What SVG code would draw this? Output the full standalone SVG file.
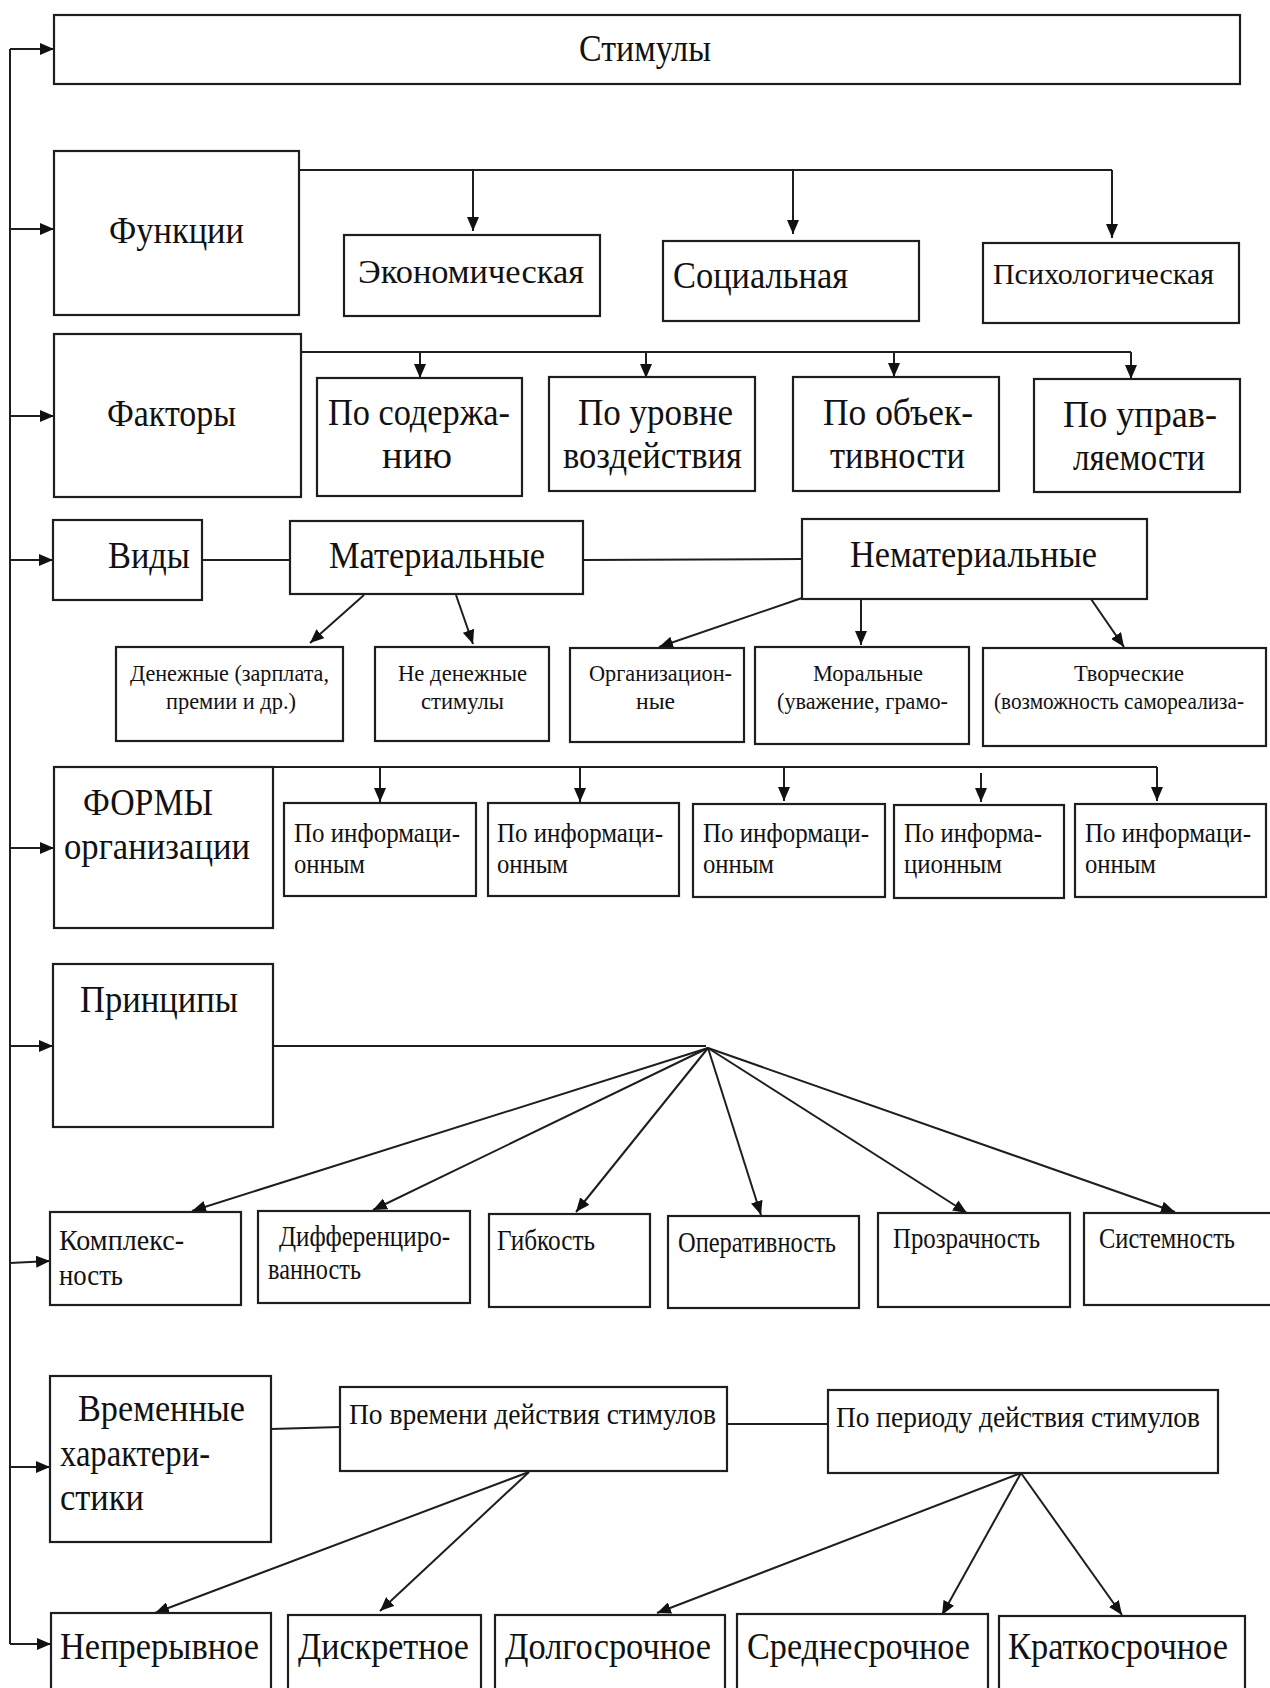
<svg xmlns="http://www.w3.org/2000/svg" width="1270" height="1688" viewBox="0 0 1270 1688">
<style>
rect{fill:#fff;stroke:#1e1e1e;stroke-width:2.2}
.c line,.c path{stroke:#1e1e1e;stroke-width:2;fill:none}
.a{marker-end:url(#ah)}
text{font-family:"Liberation Serif","Times New Roman",serif;fill:#111}
.xl{font-size:37px}
.l{font-size:33px}
.m{font-size:29px}
.s{font-size:24px}
.t{font-size:27px}
</style>
<defs>
<marker id="ah" markerUnits="userSpaceOnUse" markerWidth="14" markerHeight="12" refX="14" refY="6" orient="auto">
<path d="M0,0 L14,6 L0,12 z" fill="#111"/>
</marker>
</defs>
<rect x="0" y="0" width="1270" height="1688" style="fill:#fff;stroke:none"/>

<g id="connectors" class="c">
<path d="M10,49 V1644"/>
<line class="a" x1="10" y1="49" x2="54" y2="49"/>
<line class="a" x1="10" y1="229" x2="54" y2="229"/>
<line class="a" x1="10" y1="416" x2="54" y2="416"/>
<line class="a" x1="10" y1="560" x2="53" y2="560"/>
<line class="a" x1="10" y1="848" x2="54" y2="848"/>
<line class="a" x1="10" y1="1046" x2="53" y2="1046"/>
<line class="a" x1="10" y1="1263" x2="50" y2="1261"/>
<line class="a" x1="10" y1="1467" x2="50" y2="1467"/>
<line class="a" x1="10" y1="1644" x2="51" y2="1644"/>

<path d="M300,170 H1112"/>
<line class="a" x1="473" y1="170" x2="473" y2="231"/>
<line class="a" x1="793" y1="170" x2="793" y2="234"/>
<line class="a" x1="1112" y1="170" x2="1112" y2="238"/>

<path d="M301,352 H1131"/>
<line class="a" x1="420" y1="352" x2="420" y2="378"/>
<line class="a" x1="646" y1="352" x2="646" y2="378"/>
<line class="a" x1="894" y1="352" x2="894" y2="377"/>
<line class="a" x1="1131" y1="352" x2="1131" y2="379"/>

<line x1="202" y1="560" x2="290" y2="560"/>
<line x1="583" y1="560" x2="802" y2="559"/>
<line class="a" x1="364" y1="595" x2="310" y2="643"/>
<line class="a" x1="456" y1="595" x2="473" y2="644"/>
<line class="a" x1="802" y1="598" x2="659" y2="647"/>
<line class="a" x1="861" y1="599" x2="861" y2="645"/>
<line class="a" x1="1091" y1="599" x2="1124" y2="647"/>

<path d="M273,767 H1157"/>
<line class="a" x1="380" y1="767" x2="380" y2="802"/>
<line class="a" x1="580" y1="767" x2="580" y2="802"/>
<line class="a" x1="784" y1="767" x2="784" y2="801"/>
<line class="a" x1="981" y1="773" x2="981" y2="802"/>
<line class="a" x1="1157" y1="767" x2="1157" y2="801"/>

<path d="M273,1046 H706"/>
<line class="a" x1="708" y1="1048" x2="192" y2="1211"/>
<line class="a" x1="708" y1="1048" x2="373" y2="1210"/>
<line class="a" x1="708" y1="1048" x2="576" y2="1212"/>
<line class="a" x1="708" y1="1048" x2="761" y2="1215"/>
<line class="a" x1="708" y1="1048" x2="967" y2="1213"/>
<line class="a" x1="708" y1="1048" x2="1175" y2="1212"/>

<line x1="271" y1="1429" x2="340" y2="1427"/>
<line x1="727" y1="1424" x2="828" y2="1424"/>
<line class="a" x1="529" y1="1472" x2="155" y2="1613"/>
<line class="a" x1="529" y1="1472" x2="380" y2="1611"/>
<line class="a" x1="1021" y1="1473" x2="657" y2="1613"/>
<line class="a" x1="1021" y1="1473" x2="942" y2="1615"/>
<line class="a" x1="1021" y1="1473" x2="1122" y2="1615"/>
</g>

<g id="n-stimuly"><rect x="54" y="15" width="1186" height="69"/><text class="xl" x="579" y="61" textLength="132" lengthAdjust="spacingAndGlyphs">Стимулы</text></g>

<g id="n-funkcii"><rect x="54" y="151" width="245" height="164"/><text class="xl" x="109" y="243" textLength="135" lengthAdjust="spacingAndGlyphs">Функции</text></g>
<g id="n-ekon"><rect x="344" y="235" width="256" height="81"/><text class="l" x="358" y="283" textLength="226" lengthAdjust="spacingAndGlyphs">Экономическая</text></g>
<g id="n-soc"><rect x="663" y="241" width="256" height="80"/><text class="xl" x="673" y="288" textLength="175" lengthAdjust="spacingAndGlyphs">Социальная</text></g>
<g id="n-psych"><rect x="983" y="243" width="256" height="80"/><text class="m" x="993" y="284" textLength="221" lengthAdjust="spacingAndGlyphs">Психологическая</text></g>

<g id="n-faktory"><rect x="54" y="334" width="247" height="163"/><text class="xl" x="107" y="426" textLength="129" lengthAdjust="spacingAndGlyphs">Факторы</text></g>
<g id="n-sod"><rect x="317" y="378" width="205" height="118"/><text class="xl" x="328" y="425" textLength="182" lengthAdjust="spacingAndGlyphs">По содержа-</text><text class="xl" x="382" y="468" textLength="70" lengthAdjust="spacingAndGlyphs">нию</text></g>
<g id="n-ur"><rect x="549" y="377" width="206" height="114"/><text class="xl" x="578" y="425" textLength="155" lengthAdjust="spacingAndGlyphs">По уровне</text><text class="xl" x="563" y="468" textLength="179" lengthAdjust="spacingAndGlyphs">воздействия</text></g>
<g id="n-obj"><rect x="793" y="377" width="206" height="114"/><text class="xl" x="823" y="425" textLength="150" lengthAdjust="spacingAndGlyphs">По  объек-</text><text class="xl" x="830" y="468" textLength="135" lengthAdjust="spacingAndGlyphs">тивности</text></g>
<g id="n-upr"><rect x="1034" y="379" width="206" height="113"/><text class="xl" x="1063" y="427" textLength="154" lengthAdjust="spacingAndGlyphs">По  управ-</text><text class="xl" x="1073" y="470" textLength="132" lengthAdjust="spacingAndGlyphs">ляемости</text></g>

<g id="n-vidy"><rect x="53" y="520" width="149" height="80"/><text class="xl" x="108" y="568" textLength="82" lengthAdjust="spacingAndGlyphs">Виды</text></g>
<g id="n-mat"><rect x="290" y="521" width="293" height="73"/><text class="xl" x="329" y="568" textLength="216" lengthAdjust="spacingAndGlyphs">Материальные</text></g>
<g id="n-nemat"><rect x="802" y="519" width="345" height="80"/><text class="xl" x="850" y="567" textLength="247" lengthAdjust="spacingAndGlyphs">Нематериальные</text></g>
<g id="n-den"><rect x="116" y="647" width="227" height="94"/><text class="s" x="130" y="681" textLength="199" lengthAdjust="spacingAndGlyphs">Денежные (зарплата,</text><text class="s" x="166" y="709" textLength="130" lengthAdjust="spacingAndGlyphs">премии и др.)</text></g>
<g id="n-neden"><rect x="375" y="647" width="174" height="94"/><text class="s" x="398" y="681" textLength="129" lengthAdjust="spacingAndGlyphs">Не денежные</text><text class="s" x="421" y="709" textLength="83" lengthAdjust="spacingAndGlyphs">стимулы</text></g>
<g id="n-org"><rect x="570" y="648" width="174" height="94"/><text class="s" x="589" y="681" textLength="143" lengthAdjust="spacingAndGlyphs">Организацион-</text><text class="s" x="636" y="709" textLength="39" lengthAdjust="spacingAndGlyphs">ные</text></g>
<g id="n-mor"><rect x="755" y="647" width="214" height="97"/><text class="s" x="813" y="681" textLength="110" lengthAdjust="spacingAndGlyphs">Моральные</text><text class="s" x="777" y="709" textLength="171" lengthAdjust="spacingAndGlyphs">(уважение, грамо-</text></g>
<g id="n-tvor"><rect x="983" y="648" width="283" height="98"/><text class="s" x="1074" y="681" textLength="110" lengthAdjust="spacingAndGlyphs">Творческие</text><text class="s" x="994" y="709" textLength="250" lengthAdjust="spacingAndGlyphs">(возможность самореализа-</text></g>

<g id="n-formy"><rect x="54" y="767" width="219" height="161"/><text class="xl" x="83" y="815" textLength="130" lengthAdjust="spacingAndGlyphs">ФОРМЫ</text><text class="xl" x="64" y="859" textLength="186" lengthAdjust="spacingAndGlyphs">организации</text></g>
<g id="n-f1"><rect x="284" y="803" width="192" height="93"/><text class="t" x="294" y="842" textLength="166" lengthAdjust="spacingAndGlyphs">По информаци-</text><text class="t" x="294" y="873" textLength="71" lengthAdjust="spacingAndGlyphs">онным</text></g>
<g id="n-f2"><rect x="488" y="803" width="191" height="93"/><text class="t" x="497" y="842" textLength="166" lengthAdjust="spacingAndGlyphs">По информаци-</text><text class="t" x="497" y="873" textLength="71" lengthAdjust="spacingAndGlyphs">онным</text></g>
<g id="n-f3"><rect x="693" y="804" width="192" height="93"/><text class="t" x="703" y="842" textLength="166" lengthAdjust="spacingAndGlyphs">По информаци-</text><text class="t" x="703" y="873" textLength="71" lengthAdjust="spacingAndGlyphs">онным</text></g>
<g id="n-f4"><rect x="894" y="805" width="170" height="93"/><text class="t" x="904" y="842" textLength="138" lengthAdjust="spacingAndGlyphs">По информа-</text><text class="t" x="904" y="873" textLength="98" lengthAdjust="spacingAndGlyphs">ционным</text></g>
<g id="n-f5"><rect x="1075" y="804" width="191" height="93"/><text class="t" x="1085" y="842" textLength="166" lengthAdjust="spacingAndGlyphs">По информаци-</text><text class="t" x="1085" y="873" textLength="71" lengthAdjust="spacingAndGlyphs">онным</text></g>

<g id="n-princ"><rect x="53" y="964" width="220" height="163"/><text class="xl" x="80" y="1012" textLength="158" lengthAdjust="spacingAndGlyphs">Принципы</text></g>
<g id="n-kompl"><rect x="50" y="1212" width="191" height="93"/><text class="m" x="59" y="1250" textLength="125" lengthAdjust="spacingAndGlyphs">Комплекс-</text><text class="m" x="59" y="1285" textLength="64" lengthAdjust="spacingAndGlyphs">ность</text></g>
<g id="n-diff"><rect x="258" y="1211" width="212" height="92"/><text class="m" x="279" y="1246" textLength="171" lengthAdjust="spacingAndGlyphs">Дифференциро-</text><text class="m" x="268" y="1279" textLength="93" lengthAdjust="spacingAndGlyphs">ванность</text></g>
<g id="n-gib"><rect x="489" y="1214" width="161" height="93"/><text class="m" x="497" y="1250" textLength="98" lengthAdjust="spacingAndGlyphs">Гибкость</text></g>
<g id="n-oper"><rect x="668" y="1216" width="191" height="92"/><text class="m" x="678" y="1252" textLength="158" lengthAdjust="spacingAndGlyphs">Оперативность</text></g>
<g id="n-prozr"><rect x="878" y="1213" width="192" height="94"/><text class="m" x="893" y="1248" textLength="147" lengthAdjust="spacingAndGlyphs">Прозрачность</text></g>
<g id="n-sist"><rect x="1084" y="1213" width="200" height="92"/><text class="m" x="1099" y="1248" textLength="136" lengthAdjust="spacingAndGlyphs">Системность</text></g>

<g id="n-vrem"><rect x="50" y="1376" width="221" height="166"/><text class="xl" x="78" y="1421" textLength="167" lengthAdjust="spacingAndGlyphs">Временные</text><text class="xl" x="60" y="1466" textLength="150" lengthAdjust="spacingAndGlyphs">характери-</text><text class="xl" x="60" y="1510" textLength="84" lengthAdjust="spacingAndGlyphs">стики</text></g>
<g id="n-povr"><rect x="340" y="1387" width="387" height="84"/><text class="m" x="349" y="1424" textLength="367" lengthAdjust="spacingAndGlyphs">По времени действия стимулов</text></g>
<g id="n-poper"><rect x="828" y="1390" width="390" height="83"/><text class="m" x="836" y="1427" textLength="364" lengthAdjust="spacingAndGlyphs">По периоду действия стимулов</text></g>

<g id="n-nepr"><rect x="51" y="1613" width="220" height="100"/><text class="xl" x="60" y="1659" textLength="199" lengthAdjust="spacingAndGlyphs">Непрерывное</text></g>
<g id="n-diskr"><rect x="288" y="1615" width="193" height="100"/><text class="xl" x="298" y="1659" textLength="171" lengthAdjust="spacingAndGlyphs">Дискретное</text></g>
<g id="n-dolg"><rect x="495" y="1615" width="230" height="100"/><text class="xl" x="505" y="1659" textLength="206" lengthAdjust="spacingAndGlyphs">Долгосрочное</text></g>
<g id="n-sred"><rect x="737" y="1614" width="251" height="100"/><text class="xl" x="747" y="1659" textLength="223" lengthAdjust="spacingAndGlyphs">Среднесрочное</text></g>
<g id="n-krat"><rect x="999" y="1616" width="246" height="100"/><text class="xl" x="1008" y="1659" textLength="220" lengthAdjust="spacingAndGlyphs">Краткосрочное</text></g>
</svg>
